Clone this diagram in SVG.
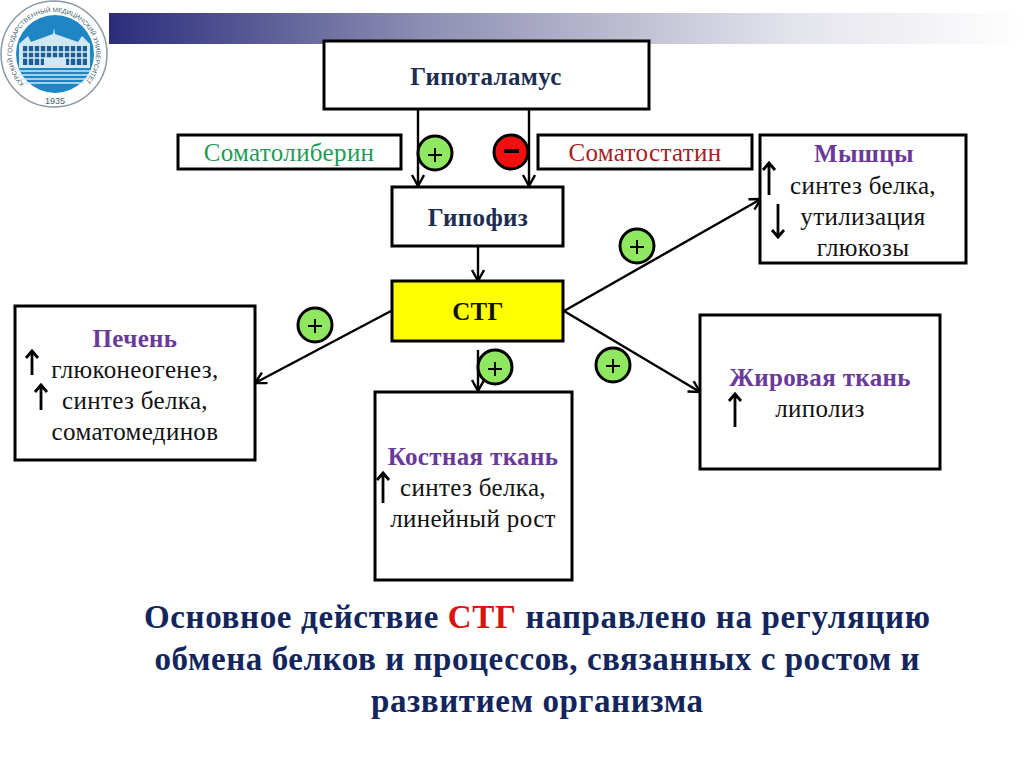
<svg xmlns="http://www.w3.org/2000/svg" width="1024" height="767" viewBox="0 0 1024 767">
<style>
.box{fill:#fff;stroke:#000;stroke-width:3}
.t{font-family:"Liberation Serif",serif;font-size:25px;letter-spacing:.35px;text-anchor:middle;fill:#111}
.h{font-weight:bold;fill:#1c2c52}
.p{font-weight:bold;fill:#6a3a9a}
.c{fill:none;stroke:#000;stroke-width:2.4}
.u{fill:none;stroke:#000;stroke-width:2.8}
.pl{stroke:#000;stroke-width:3;fill:#8fe860}
.sign{stroke:#000;stroke-width:2;fill:none}
.b{font-family:"Liberation Serif",serif;font-size:33px;font-weight:bold;text-anchor:middle;fill:#12255c}
</style>
<defs>
<linearGradient id="bar"><stop offset="0" stop-color="#2b2d7c"/><stop offset=".35" stop-color="#8f90b4"/><stop offset=".75" stop-color="#e4e4ec"/><stop offset="1" stop-color="#fff"/></linearGradient>
<marker id="a" markerUnits="userSpaceOnUse" markerWidth="14" markerHeight="16" refX="12" refY="7" orient="auto"><path d="M1 1L12 7L1 13" fill="none" stroke="#000" stroke-width="2.4"/></marker>
<path id="arc" d="M24.3 83.7A42 42 0 1 1 83.7 83.7"/>
</defs>
<rect width="1024" height="767" fill="#fff"/>
<rect x="109" y="13" width="915" height="31" fill="url(#bar)"/>
<g id="logo">
<circle cx="54" cy="54" r="53" fill="#fff" stroke="#8a9aa5" stroke-width="1.5"/>
<circle cx="55" cy="54" r="39" fill="#1f86c4"/>
<path d="M19 44L28 36L31 42L53 34L54 28L55 34L78 42L82 36L90 44V68H19Z" fill="#cfe8f4"/>
<path d="M23 46h64v19h-64z" fill="#1d5d96"/>
<path d="M23 52h64M23 58h64" stroke="#cfe8f4" stroke-width="1.6"/>
<path d="M28 46v19M34 46v19M40 46v19M46 46v19M52 46v19M58 46v19M64 46v19M70 46v19M76 46v19M82 46v19" stroke="#cfe8f4" stroke-width="1.6"/>
<path d="M44 58h22v9h-22z" fill="#cfe8f4"/>
<path d="M18 71h74M19 75h72M21 79h68M25 83h60" stroke="#cfe8f4" stroke-width="1.5"/>
<text x="55" y="104" font-family="Liberation Sans,sans-serif" font-size="9" fill="#44606e" text-anchor="middle">1935</text>
<text font-family="Liberation Sans,sans-serif" font-size="6.4" fill="#44606e"><textPath href="#arc" textLength="195">КУРСКИЙ ГОСУДАРСТВЕННЫЙ МЕДИЦИНСКИЙ УНИВЕРСИТЕТ</textPath></text>
</g>
<g id="connectors">
<path class="c" marker-end="url(#a)" d="M418 109V186"/>
<path class="c" marker-end="url(#a)" d="M529 109V186"/>
<path class="c" marker-end="url(#a)" d="M478 246V281"/>
<path class="c" marker-end="url(#a)" d="M391 311L255 383"/>
<path class="c" marker-end="url(#a)" d="M478 350V391"/>
<path class="c" marker-end="url(#a)" d="M564 311L761 199"/>
<path class="c" marker-end="url(#a)" d="M564 311L700 392"/>
</g>
<g id="n-hypothalamus"><rect class="box" x="324" y="41" width="325" height="68"/><text class="t h" x="486" y="85">Гипоталамус</text></g>
<g id="n-somatoliberin"><rect class="box" x="178" y="135" width="223" height="34"/><text class="t" style="fill:#1f9a58" x="289" y="161">Соматолиберин</text></g>
<g id="n-somatostatin"><rect class="box" x="538" y="135" width="214" height="34"/><text class="t" style="fill:#a81c24" x="645" y="161">Соматостатин</text></g>
<g id="n-hypophysis"><rect class="box" x="392" y="187" width="171" height="59"/><text class="t h" x="478" y="226">Гипофиз</text></g>
<g id="n-stg"><rect class="box" x="392" y="281" width="171" height="60" style="fill:#ffff00"/><text class="t h" x="478" y="320" style="fill:#111">СТГ</text></g>
<g id="n-liver"><rect class="box" x="15" y="306" width="240" height="154"/>
<text class="t p" x="135" y="347">Печень</text><text class="t" x="135" y="378">глюконеогенез,</text><text class="t" x="135" y="409">синтез белка,</text><text class="t" x="135" y="440">соматомединов</text>
<path class="u" d="M32 375V351M26 358L32 351L38 358M41 410V385M35 392L41 385L47 392"/></g>
<g id="n-bone"><rect class="box" x="375" y="392" width="197" height="188"/>
<text class="t p" x="473" y="465">Костная ткань</text><text class="t" x="473" y="496">синтез белка,</text><text class="t" x="473" y="527">линейный рост</text>
<path class="u" d="M383 503V473M377 480L383 473L389 480"/></g>
<g id="n-fat"><rect class="box" x="700" y="315" width="240" height="154"/>
<text class="t p" x="820" y="386">Жировая ткань</text><text class="t" x="820" y="417">липолиз</text>
<path class="u" d="M735 427V394M729 401L735 394L741 401"/></g>
<g id="n-muscle"><rect class="box" x="760" y="135" width="206" height="128"/>
<text class="t p" x="864" y="162">Мышцы</text><text class="t" x="863" y="194">синтез белка,</text><text class="t" x="863" y="225">утилизация</text><text class="t" x="863" y="256">глюкозы</text>
<path class="u" d="M769 195V163M763 170L769 163L775 170M778 204V237M772 230L778 237L784 230"/></g>
<g id="s1"><circle class="pl" cx="435" cy="153" r="17"/><path class="sign" d="M428 155H442M435 148V162"/></g>
<g id="s2"><circle cx="511" cy="152" r="17" fill="#f01010" stroke="#000" stroke-width="3"/><path d="M504 151H519" stroke="#000" stroke-width="4"/></g>
<g id="s3"><circle class="pl" cx="637" cy="246" r="17"/><path class="sign" d="M630 247H644M637 240V254"/></g>
<g id="s4"><circle class="pl" cx="315" cy="325" r="17"/><path class="sign" d="M308 326H322M315 319V333"/></g>
<g id="s5"><circle class="pl" cx="495" cy="367" r="17"/><path class="sign" d="M488 369H502M495 362V376"/></g>
<g id="s6"><circle class="pl" cx="613" cy="365" r="17"/><path class="sign" d="M606 366H620M613 359V373"/></g>
<text class="b" x="537" y="628" textLength="786">Основное действие <tspan fill="#d8140f">СТГ</tspan> направлено на регуляцию</text>
<text class="b" x="537" y="670" textLength="765">обмена белков и процессов, связанных с ростом и</text>
<text class="b" x="537" y="712" textLength="332">развитием организма</text>
</svg>
